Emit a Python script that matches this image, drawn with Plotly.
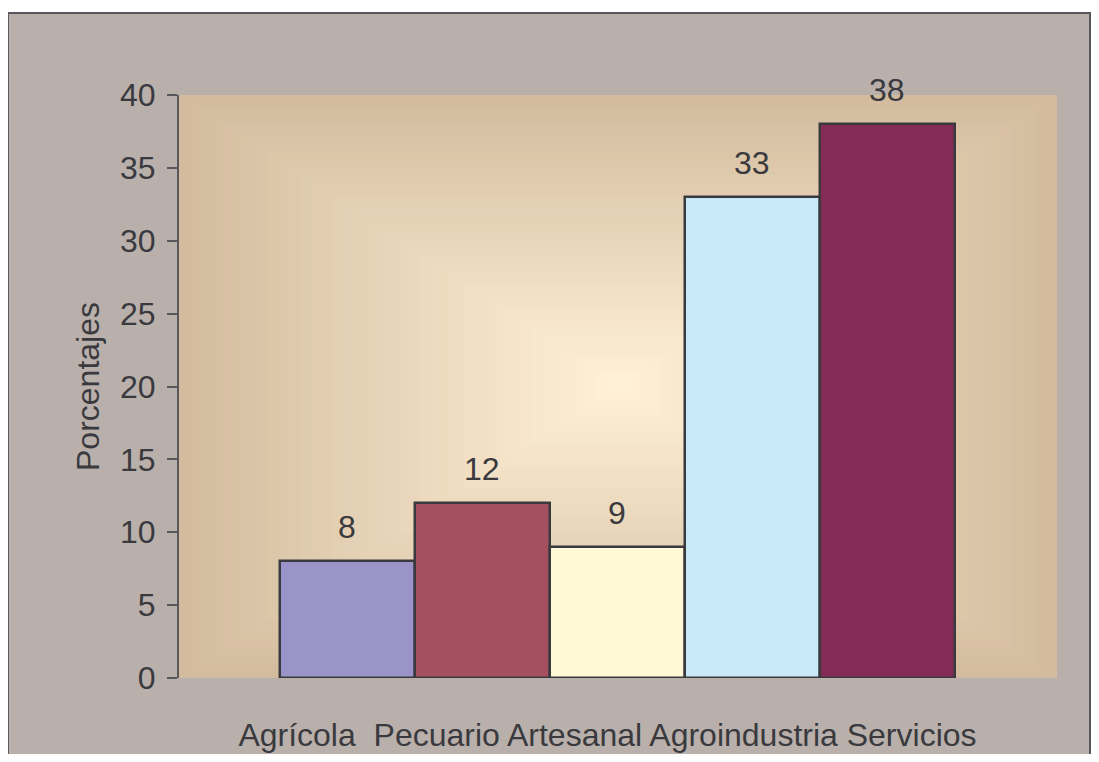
import plotly.graph_objects as go

categories = ["Agrícola", "Pecuario", "Artesanal", "Agroindustria", "Servicios"]
values = [8, 12, 9, 33, 38]
bar_colors = ["#9A94C8", "#A5505F", "#FFF9D6", "#C7E9F8", "#822C56"]
y_ticks = [0, 5, 10, 15, 20, 25, 30, 35, 40]
y_title = "Porcentajes"

positions = list(range(len(categories)))
x_label = "Agrícola\u00a0\u00a0" + " ".join(categories[1:])

FONT = "Liberation Sans, Arial, sans-serif"
TXT = "#3A3A3E"
FS = 32

fig = go.Figure()
fig.add_trace(go.Bar(
    x=positions, y=values, width=1,
    marker=dict(color=bar_colors, line=dict(color="#3A3A3E", width=2.5)),
    hoverinfo="skip", showlegend=False,
))

for p, v in zip(positions, values):
    fig.add_annotation(x=p, y=v, text=str(v), showarrow=False, yanchor="middle",
                       yshift=34, font=dict(family=FONT, size=FS, color=TXT))

shapes = []
# outer chart area with border
shapes.append(dict(type="rect", xref="paper", yref="paper",
                   x0=-0.1948, x1=1.0376, y0=-0.3, y1=1.1407,
                   fillcolor="#B9B0AC", line=dict(color="#58585C", width=2), layer="below"))
# rectangular "from center" gradient in plot area
edge = (211, 188, 158)
center = (255, 240, 214)
N = 40
for k in range(N):
    t = k / N
    f = k / (N - 1)
    c = tuple(round(edge[i] + (center[i] - edge[i]) * f) for i in range(3))
    shapes.append(dict(type="rect", xref="x domain", yref="y domain",
                       x0=t / 2, x1=1 - t / 2, y0=t / 2, y1=1 - t / 2,
                       fillcolor="rgb(%d,%d,%d)" % c, line=dict(width=0), layer="below"))

fig.update_layout(
    width=1083, height=746,
    margin=dict(l=171, r=34, t=87, b=76, autoexpand=False),
    paper_bgcolor="white",
    plot_bgcolor="rgba(0,0,0,0)",
    shapes=shapes,
    bargap=0,
    font=dict(family=FONT, size=FS, color=TXT),
    xaxis=dict(range=[-1.248, 5.256], tickvals=[sum(positions) / len(positions)],
               ticktext=[x_label], showgrid=False, zeroline=False, showline=False,
               ticks="", ticklabelstandoff=35, ticklabelshift=-10, automargin=False,
               tickfont=dict(family=FONT, size=FS, color=TXT), fixedrange=True),
    yaxis=dict(range=[0, 40], tickvals=y_ticks, showgrid=False, zeroline=False,
               showline=True, linecolor="#58585C", linewidth=2, automargin=False,
               ticks="outside", ticklen=10, tickwidth=2, tickcolor="#58585C",
               ticklabelstandoff=5,
               tickfont=dict(family=FONT, size=FS, color=TXT),
               title=dict(text=y_title, standoff=11, font=dict(family=FONT, size=FS, color=TXT))),
)

fig.write_html("out.html")
